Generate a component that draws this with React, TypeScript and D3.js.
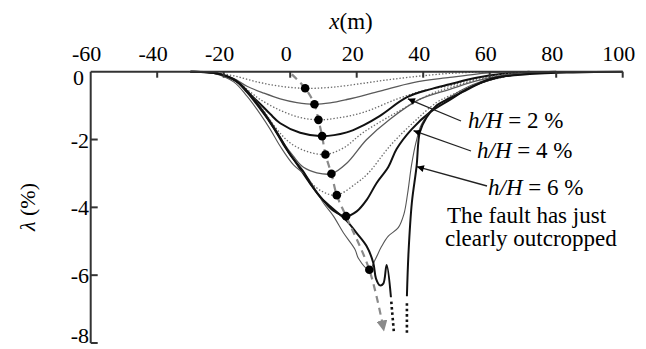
import { useEffect, useRef } from "react";
import * as d3 from "d3";

const W = 646;
const H = 349;

const xTicks = [-60, -40, -20, 0, 20, 40, 60, 80, 100];
const yTicks = [0, -2, -4, -6, -8];

// troughs for h/H = 0.5 % ... 6 % as [x (m), lambda (%)]
const curve05 = [[-30, 0], [-24, -0.02], [-17, -0.12], [-10, -0.3], [-3, -0.43], [4.5, -0.49], [11, -0.47], [17, -0.41], [27, -0.27], [37, -0.15], [48, -0.05], [60, 0]];
const curve10 = [[-30, 0], [-22, -0.05], [-17, -0.2], [-13, -0.43], [-8, -0.63], [-3, -0.8], [2, -0.91], [7.3, -0.96], [12, -0.92], [17, -0.82], [27, -0.57], [37, -0.32], [48, -0.17], [56, -0.07], [65, 0]];
const curve15 = [[-30, 0], [-22, -0.05], [-16, -0.3], [-12, -0.6], [-9, -0.82], [-3, -1.14], [3, -1.35], [8.5, -1.42], [14, -1.37], [22, -1.2], [32, -0.81], [40, -0.56], [48, -0.41], [56, -0.2], [68, 0]];
const curve20 = [[-30, 0], [-22, -0.05], [-16, -0.3], [-12, -0.68], [-9, -0.95], [-6, -1.25], [-3, -1.52], [3, -1.8], [9.6, -1.9], [17, -1.79], [22, -1.58], [27, -1.3], [35, -0.76], [42, -0.52], [48, -0.37], [56, -0.18], [64, -0.06], [72, 0]];
const curve25 = [[-30, 0], [-22, -0.05], [-16, -0.3], [-12, -0.68], [-8, -1.15], [-4, -1.7], [0, -2.1], [5, -2.35], [10.6, -2.44], [16, -2.25], [22, -1.79], [32, -1.2], [42, -0.67], [48, -0.47], [56, -0.24], [64, -0.08], [74, 0]];
const curve30 = [[-30, 0], [-22, -0.05], [-16, -0.28], [-12, -0.66], [-8, -1.17], [-5, -1.6], [-2, -2.1], [1, -2.5], [4, -2.82], [8, -2.98], [12.4, -3.01], [17, -2.7], [23, -2.0], [30, -1.4], [39, -0.81], [48, -0.52], [56, -0.27], [66, -0.08], [76, 0]];
const curve35 = [[-30, 0], [-22, -0.05], [-16, -0.28], [-12, -0.67], [-8, -1.18], [-5, -1.62], [-2, -2.12], [2, -2.7], [6, -3.25], [10, -3.55], [14, -3.64], [20, -3.28], [23.5, -2.99], [30, -2.19], [37, -1.5], [44, -0.91], [48, -0.71], [56, -0.38], [66, -0.12], [78, 0]];
const curve40 = [[-30, 0], [-22, -0.05], [-16, -0.29], [-12, -0.68], [-8, -1.2], [-5, -1.65], [-2, -2.15], [2, -2.72], [6, -3.3], [10, -3.8], [13, -4.1], [16.8, -4.26], [20, -4.12], [23, -3.78], [26, -3.28], [29.5, -2.81], [32, -2.28], [36.5, -1.7], [42, -1.2], [48, -0.83], [55, -0.42], [65, -0.12], [80, 0]];
const curve50 = [[-30, 0], [-23, -0.05], [-17, -0.3], [-13, -0.72], [-9, -1.25], [-6, -1.7], [-3, -2.2], [1, -2.75], [5, -3.09], [10, -3.87], [13, -4.26], [16, -4.75], [19.5, -5.24], [20.5, -5.5], [23.8, -5.84], [25.5, -5.55], [27.5, -5.15], [29.5, -4.85], [32.5, -4.6], [34.2, -4.2], [35.3, -3.6], [36.5, -2.75], [37.8, -2.1], [39.5, -1.55], [43, -1.1], [48, -0.75], [55, -0.38], [65, -0.1], [82, 0]];
const curve60Left = [[-30, 0], [-23, -0.04], [-17, -0.22], [-13, -0.6], [-9, -1.1], [-6, -1.5], [-3, -1.95], [0, -2.45], [4, -2.95], [6, -3.28], [9, -3.69], [12, -3.97], [17, -4.4], [20, -4.76], [23, -5.15], [25, -5.64], [25.8, -6.1], [27, -6.3], [28, -6.25], [29, -5.7], [30.3, -6.65]];
const curve60LeftOff = [[30.4, -6.78], [31.2, -7.7]];
const curve60RightOff = [[35.1, -7.7], [35.1, -6.78]];
const curve60Right = [[35.1, -6.62], [35.6, -5.3], [36.6, -3.85], [38, -2.8], [39, -1.78], [41, -1.35], [44, -1.0], [47, -0.83], [53, -0.54], [57, -0.34], [60, -0.22], [65, -0.13], [75, -0.05], [85, -0.02], [100, 0]];

// maximum settlement points and the trend through them
const minima = [[4.5, -0.49], [7.3, -0.96], [8.5, -1.42], [9.6, -1.9], [10.6, -2.44], [12.4, -3.01], [14, -3.64], [16.8, -4.26], [23.8, -5.84]];
const trendStart = [0.5, -0.08];
const trendEnd = [27.9, -7.5];

// annotation targets on the curves
const labels = ["h/H = 2 %", "h/H = 4 %", "h/H = 6 %"];
const labelTargets = [[35.4, -0.8], [37.1, -1.74], [38.1, -2.8]];

const App = () => {
  const svgRef = useRef(null);

  useEffect(() => {
    const svg = d3.select(svgRef.current);
    svg.selectAll("*").remove();

    const x = d3.scaleLinear().domain([-60, 100]).range([90.7, 622.7]);
    const y = d3.scaleLinear().domain([0, -8]).range([71.7, 343]);

    const line = d3
      .line()
      .x((d) => x(d[0]))
      .y((d) => y(d[1]))
      .curve(d3.curveCatmullRom.alpha(0.5));
    const straight = d3
      .line()
      .x((d) => x(d[0]))
      .y((d) => y(d[1]));

    const defs = svg.append("defs");
    defs
      .append("marker")
      .attr("id", "grayHead")
      .attr("viewBox", "0 0 10 10")
      .attr("refX", 5)
      .attr("refY", 5)
      .attr("markerWidth", 11)
      .attr("markerHeight", 11)
      .attr("markerUnits", "userSpaceOnUse")
      .attr("orient", "auto")
      .append("path")
      .attr("d", "M0,0 L10,5 L0,10 z")
      .attr("fill", "#8a8a8a");
    defs
      .append("marker")
      .attr("id", "blackHead")
      .attr("viewBox", "0 0 10 10")
      .attr("refX", 10)
      .attr("refY", 5)
      .attr("markerWidth", 9)
      .attr("markerHeight", 7)
      .attr("markerUnits", "userSpaceOnUse")
      .attr("orient", "auto")
      .append("path")
      .attr("d", "M0,0 L10,5 L0,10 z")
      .attr("fill", "#000");

    // series styles
    const dotted = { stroke: "#6a6a6a", width: 1.3, dash: "1.4,1.9" };
    const graySolid = { stroke: "#5a5a5a", width: 1.3, dash: null };
    const blackSolid = { stroke: "#111", width: 2, dash: null };
    const thinGray = { stroke: "#555", width: 1.1, dash: null };
    const offScale = { stroke: "#111", width: 2.6, dash: "2.6,2.8" };

    const series = [
      [curve05, dotted, line],
      [curve10, graySolid, line],
      [curve15, dotted, line],
      [curve20, blackSolid, line],
      [curve25, dotted, line],
      [curve30, graySolid, line],
      [curve35, dotted, line],
      [curve40, blackSolid, line],
      [curve50, thinGray, line],
      [curve60Left, blackSolid, line],
      [curve60Right, blackSolid, line],
      [curve60LeftOff, offScale, straight],
      [curve60RightOff, offScale, straight],
    ];

    const g = svg.append("g");
    series.forEach(([pts, st, gen]) => {
      g.append("path")
        .attr("d", gen(pts))
        .attr("fill", "none")
        .attr("stroke", st.stroke)
        .attr("stroke-width", st.width)
        .attr("stroke-dasharray", st.dash)
        .attr("stroke-linejoin", "round");
    });

    // trend of the maximum settlement
    g.append("path")
      .attr("d", line([trendStart, ...minima, trendEnd]))
      .attr("fill", "none")
      .attr("stroke", "#8a8a8a")
      .attr("stroke-width", 2.2)
      .attr("stroke-dasharray", "7,5")
      .attr("marker-end", "url(#grayHead)");

    g.selectAll("circle.min")
      .data(minima)
      .enter()
      .append("circle")
      .attr("class", "min")
      .attr("cx", (d) => x(d[0]))
      .attr("cy", (d) => y(d[1]))
      .attr("r", 4.3)
      .attr("fill", "#000");

    // axes
    const axis = svg.append("g").attr("stroke", "#333").attr("stroke-width", 2);
    axis
      .append("line")
      .attr("x1", x(-60))
      .attr("x2", x(100))
      .attr("y1", y(0))
      .attr("y2", y(0));
    axis
      .append("line")
      .attr("x1", x(-60))
      .attr("x2", x(-60))
      .attr("y1", y(0))
      .attr("y2", y(-8));
    axis
      .selectAll("line.xt")
      .data(xTicks.slice(1))
      .enter()
      .append("line")
      .attr("class", "xt")
      .attr("x1", (d) => x(d))
      .attr("x2", (d) => x(d))
      .attr("y1", y(0))
      .attr("y2", y(0) + 6);
    axis
      .selectAll("line.yt")
      .data(yTicks.slice(1))
      .enter()
      .append("line")
      .attr("class", "yt")
      .attr("x1", x(-60))
      .attr("x2", x(-60) + 7)
      .attr("y1", (d) => y(d))
      .attr("y2", (d) => y(d));

    const txt = svg.append("g").style("font-family", '"Liberation Serif", "Times New Roman", Times, "DejaVu Serif", serif');

    txt
      .selectAll("text.xl")
      .data(xTicks)
      .enter()
      .append("text")
      .attr("class", "xl")
      .attr("x", (d) => x(d) - 4)
      .attr("y", 61)
      .attr("text-anchor", "middle")
      .attr("font-size", 22)
      .text((d) => d);
    txt
      .selectAll("text.yl")
      .data(yTicks)
      .enter()
      .append("text")
      .attr("class", "yl")
      .attr("x", (d) => (d === 0 ? 84 : 89))
      .attr("y", (d) => Math.min(y(d) + (d === 0 ? 13 : 8), 343))
      .attr("text-anchor", "end")
      .attr("font-size", 22)
      .text((d) => d);

    const xt = txt
      .append("text")
      .attr("x", 351)
      .attr("y", 29)
      .attr("text-anchor", "middle")
      .attr("font-size", 23);
    xt.append("tspan").attr("font-style", "italic").text("x");
    xt.append("tspan").text("(m)");

    const yt = txt
      .append("text")
      .attr("transform", "translate(35,207) rotate(-90)")
      .attr("text-anchor", "middle")
      .attr("font-size", 22);
    yt.append("tspan").attr("font-style", "italic").text("λ");
    yt.append("tspan").text(" (%)");

    // annotations
    const textPos = [[468, 128], [477, 158], [488, 195]];
    const lineFrom = [[461, 121], [471, 151], [487, 186]];
    labels.forEach((lab, i) => {
      svg
        .append("line")
        .attr("x1", lineFrom[i][0])
        .attr("y1", lineFrom[i][1])
        .attr("x2", x(labelTargets[i][0]))
        .attr("y2", y(labelTargets[i][1]))
        .attr("stroke", "#222")
        .attr("stroke-width", 1.3)
        .attr("marker-end", "url(#blackHead)");
      const [hh, rest] = lab.split(" = ");
      const t = txt
        .append("text")
        .attr("x", textPos[i][0])
        .attr("y", textPos[i][1])
        .attr("font-size", 23);
      t.append("tspan").attr("font-style", "italic").text(hh);
      t.append("tspan").text(" = " + rest);
    });
    txt
      .append("text")
      .attr("x", 447)
      .attr("y", 223)
      .attr("font-size", 23)
      .text("The fault has just");
    txt
      .append("text")
      .attr("x", 445)
      .attr("y", 246)
      .attr("font-size", 23)
      .text("clearly outcropped");
  }, []);

  return (
    <svg
      ref={svgRef}
      width={W}
      height={H}
      style={{ position: "absolute", left: 0, top: 0, background: "#fff" }}
    />
  );
};

export default App;
